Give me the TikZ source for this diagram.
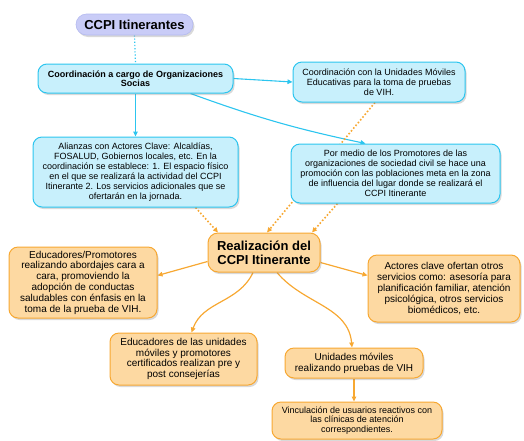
\documentclass[tikz,border=0pt]{standalone}
\usepackage{fontspec}
\setmainfont{Liberation Sans}
\usetikzlibrary{shadows,arrows.meta,backgrounds}
\definecolor{cyfill}{HTML}{C8F0FC}
\definecolor{cyline}{HTML}{2CC5EF}
\definecolor{orfill}{HTML}{FDD9A2}
\definecolor{orline}{HTML}{F7A832}
\definecolor{lav}{HTML}{C9CCF7}
\definecolor{lavline}{HTML}{B4BAF0}
\begin{document}
\begin{tikzpicture}[x=1pt,y=-1pt,
  base/.style={rounded corners=9pt, align=center, inner sep=0pt,
    drop shadow={opacity=0.3,shadow xshift=1.5pt,shadow yshift=-2pt}},
  cy/.style={base, fill=cyfill, draw=cyline, line width=1pt, font=\fontsize{9}{10}\selectfont},
  cybold/.style={cy, font=\bfseries\fontsize{9}{9.5}\selectfont},
  orng/.style={base, fill=orfill, draw=orline, line width=1pt, font=\fontsize{10}{10.8}\selectfont},
  ttl/.style={base, rounded corners=10.5pt, fill=lav, draw=lavline, line width=0.6pt, font=\bfseries\fontsize{13}{14}\selectfont},
  cyarr/.style={draw=cyline, line width=1.1pt, -{Triangle[length=5pt,width=4.5pt]}},
  cydot/.style={draw=cyline, line width=1.2pt, dotted},
  ordot/.style={draw=orline, line width=1.6pt, dotted, -{Triangle[length=5pt,width=4.5pt]}},
  orarr/.style={draw=orline, line width=1.2pt, -{Triangle[length=5pt,width=4.5pt]}}
]
\useasboundingbox (0,0) rectangle (524,440);

\node[ttl, minimum width=117pt, minimum height=21pt] (title) at (134.5,24.5) {CCPI Itinerantes};

\node[cybold, minimum width=195pt, minimum height=29pt] (coord) at (135.5,78.5)
  {Coordinación a cargo de Organizaciones\\Socias};

\node[cy, minimum width=172pt, minimum height=40pt] (movil) at (379,82)
  {Coordinación con la Unidades Móviles\\Educativas para la toma de pruebas\\de VIH.};

\node[cy, minimum width=205pt, minimum height=70pt] (alianzas) at (135.5,172)
  {Alianzas con Actores Clave: Alcaldías,\\FOSALUD, Gobiernos locales, etc. En la\\coordinación se establece: 1. El espacio físico\\en el que se realizará la actividad del CCPI\\Itinerante 2. Los servicios adicionales que se\\ofertarán en la jornada.};

\node[cy, minimum width=209pt, minimum height=59pt] (pormedio) at (395.5,173.5)
  {Por medio de los Promotores de las\\organizaciones de sociedad civil se hace una\\promoción con las poblaciones meta en la zona\\de influencia del lugar donde se realizará el\\CCPI Itinerante};

\node[orng, font=\bfseries\fontsize{13}{14}\selectfont, rounded corners=10pt, minimum width=112pt, minimum height=39pt] (realiz) at (264,252.5)
  {Realización del\\CCPI Itinerante};

\node[orng, minimum width=148pt, minimum height=71pt] (edu1) at (83,282.5)
  {Educadores/Promotores\\realizando abordajes cara a\\cara, promoviendo la\\adopción de conductas\\saludables con énfasis en la\\toma de la prueba de VIH.};

\node[orng, minimum width=152pt, minimum height=67pt] (actores) at (444,288.5)
  {Actores clave ofertan otros\\servicios como: asesoría para\\planificación familiar, atención\\psicológica, otros servicios\\biomédicos, etc.};

\node[orng, minimum width=147pt, minimum height=52pt] (edu2) at (183.5,359)
  {Educadores de las unidades\\móviles y promotores\\certificados realizan pre y\\post consejerías};

\node[orng, minimum width=138pt, minimum height=30pt] (unid) at (354,363)
  {Unidades móviles\\realizando pruebas de VIH};

\node[orng, font=\fontsize{9}{9.8}\selectfont, minimum width=170pt, minimum height=37pt] (vinc) at (357,420.5)
  {Vinculación de usuarios reactivos con\\las clínicas de atención\\correspondientes.};

\begin{pgfonlayer}{background}
  \draw[cydot] (title.south) -- (coord.north);
  \draw[cyarr] (coord.east) -- (movil.west);
  \draw[cyarr] (coord.south) -- (alianzas.north);
  \draw[cyarr] ([xshift=55pt]coord.south) to[bend right=4] ([xshift=-30pt]pormedio.north);
  \draw[ordot] ([xshift=-4pt]movil.south) -- ([xshift=3pt]realiz.north);
  \draw[ordot] ([xshift=60pt]alianzas.south) -- ([xshift=-46pt]realiz.north);
  \draw[ordot] ([xshift=-58pt]pormedio.south) -- ([xshift=48pt]realiz.north);
  \draw[orarr] ([yshift=-9pt]realiz.west) -- ([yshift=7pt]edu1.east);
  \draw[orarr] ([yshift=-10pt]realiz.east) -- ([yshift=13pt]actores.west);
  \draw[orarr] ([xshift=-11pt]realiz.south) to[out=-115,in=70] ([xshift=8pt]edu2.north);
  \draw[orarr] ([xshift=13pt]realiz.south) to[out=-50,in=95] ([xshift=-2pt]unid.north);
  \draw[orarr] (unid.south) -- ([xshift=-3pt]vinc.north);
\end{pgfonlayer}
\end{tikzpicture}
\end{document}
